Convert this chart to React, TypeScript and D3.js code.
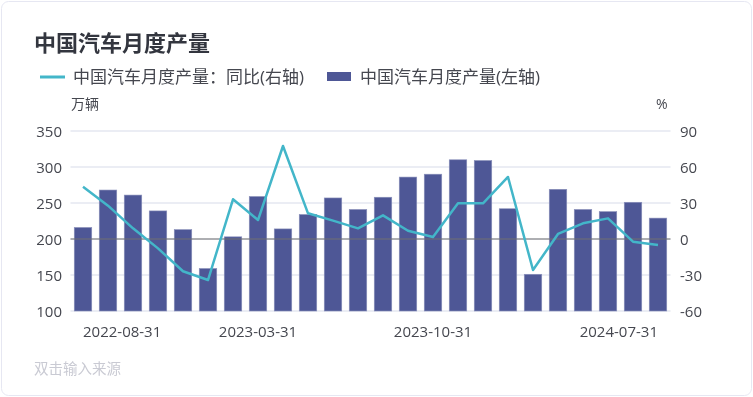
import React from "react";
import * as d3 from "d3";

const months = [
  "2022-08-31", "2022-09-30", "2022-10-31", "2022-11-30", "2022-12-31", "2023-01-31",
  "2023-02-28", "2023-03-31", "2023-04-30", "2023-05-31", "2023-06-30", "2023-07-31",
  "2023-08-31", "2023-09-30", "2023-10-31", "2023-11-30", "2023-12-31", "2024-01-31",
  "2024-02-29", "2024-03-31", "2024-04-30", "2024-05-31", "2024-06-30", "2024-07-31",
];
// 万辆
const output = [216, 268, 261, 239, 213, 159, 203, 259, 214, 234, 257, 241,
  258, 286, 290, 310, 309, 242, 151, 269, 241, 238, 251, 229];
// 同比 %
const yoy = [43.6, 27.8, 8.9, -7.8, -26.9, -34.2, 33.1, 15.8, 77.5, 21.4, 15.3, 8.9,
  19.7, 6.9, 1.7, 29.7, 29.7, 51.7, -25.8, 4.2, 13.1, 17.2, -2.2, -5];
const leftTicks = [100, 150, 200, 250, 300, 350];
const rightTicks = [-60, -30, 0, 30, 60, 90];
const shownLabels = ["2022-08-31", "2023-03-31", "2023-10-31", "2024-07-31"];

const W = 753, H = 397;
const plot = { left: 70.5, right: 670.5, top: 131, bottom: 311 };
const barColor = "#4e5796";
const lineColor = "#43b6c9";
const textColor = "#45474f";
const font = "'Open Sans', 'Noto Sans CJK SC', sans-serif";

export default function App() {
  const x = d3.scaleBand().domain(months).range([plot.left, plot.right]).paddingInner(0.3).paddingOuter(0.15);
  const yL = d3.scaleLinear().domain([100, 350]).range([plot.bottom, plot.top]);
  const yR = d3.scaleLinear().domain([-60, 90]).range([plot.bottom, plot.top]);
  const cx = (m: string) => (x(m) as number) + x.bandwidth() / 2;
  const line = d3.line<number>().x((_, i) => cx(months[i])).y(d => yR(d));

  return (
    <div style={{ position: "fixed", left: 0, top: 0 }}>
      <svg width={W} height={H} style={{ display: "block", fontFamily: font }}>
        <rect x={1.5} y={1.5} width={W - 3} height={H - 3} rx={7} fill="#fff" stroke="#e6e7f2" />
        <text x={34} y={51} fontSize={22} fontWeight="bold" fill="#33363f">中国汽车月度产量</text>
        <line x1={40} x2={65} y1={77} y2={77} stroke={lineColor} strokeWidth={3} />
        <text x={73} y={83} fontSize={17} fill={textColor}>中国汽车月度产量：同比(右轴)</text>
        <rect x={327} y={72} width={24} height={9} fill={barColor} />
        <text x={360} y={83} fontSize={17} fill={textColor}>中国汽车月度产量(左轴)</text>
        <text x={71} y={109} fontSize={14} fill={textColor}>万辆</text>
        <text x={656} y={109} fontSize={14} fill={textColor}>%</text>

        {leftTicks.map(t => (
          <g key={t}>
            <line x1={plot.left} x2={plot.right} y1={yL(t)} y2={yL(t)}
              stroke="#e4e7f0" strokeWidth={1.5} />
            <text x={62} y={yL(t) + 5.5} fontSize={15} textAnchor="end" fill={textColor}>{t}</text>
          </g>
        ))}
        {rightTicks.map(t => (
          <text key={t} x={680} y={yR(t) + 5.5} fontSize={15} fill={textColor}>{t}</text>
        ))}

        {output.map((v, i) => (
          <rect key={i} x={x(months[i])} y={yL(v)} width={x.bandwidth()} height={yL(100) - yL(v)}
            fill={barColor} stroke="#8a90ba" strokeWidth={0.6} />
        ))}
        <line x1={plot.left} x2={plot.right} y1={yR(0)} y2={yR(0)} stroke="#707070" strokeWidth={1} />
        <path d={line(yoy) || ""} fill="none" stroke={lineColor} strokeWidth={2.5} strokeLinejoin="round" />

        {shownLabels.map((m, i) => (
          <text key={m} x={cx(m)} y={337} fontSize={15} fill={textColor}
            textAnchor={i === 0 ? "start" : i === shownLabels.length - 1 ? "end" : "middle"}>{m}</text>
        ))}
        <text x={34} y={374} fontSize={14.5} fill="#c9cad3">双击输入来源</text>
      </svg>
    </div>
  );
}
